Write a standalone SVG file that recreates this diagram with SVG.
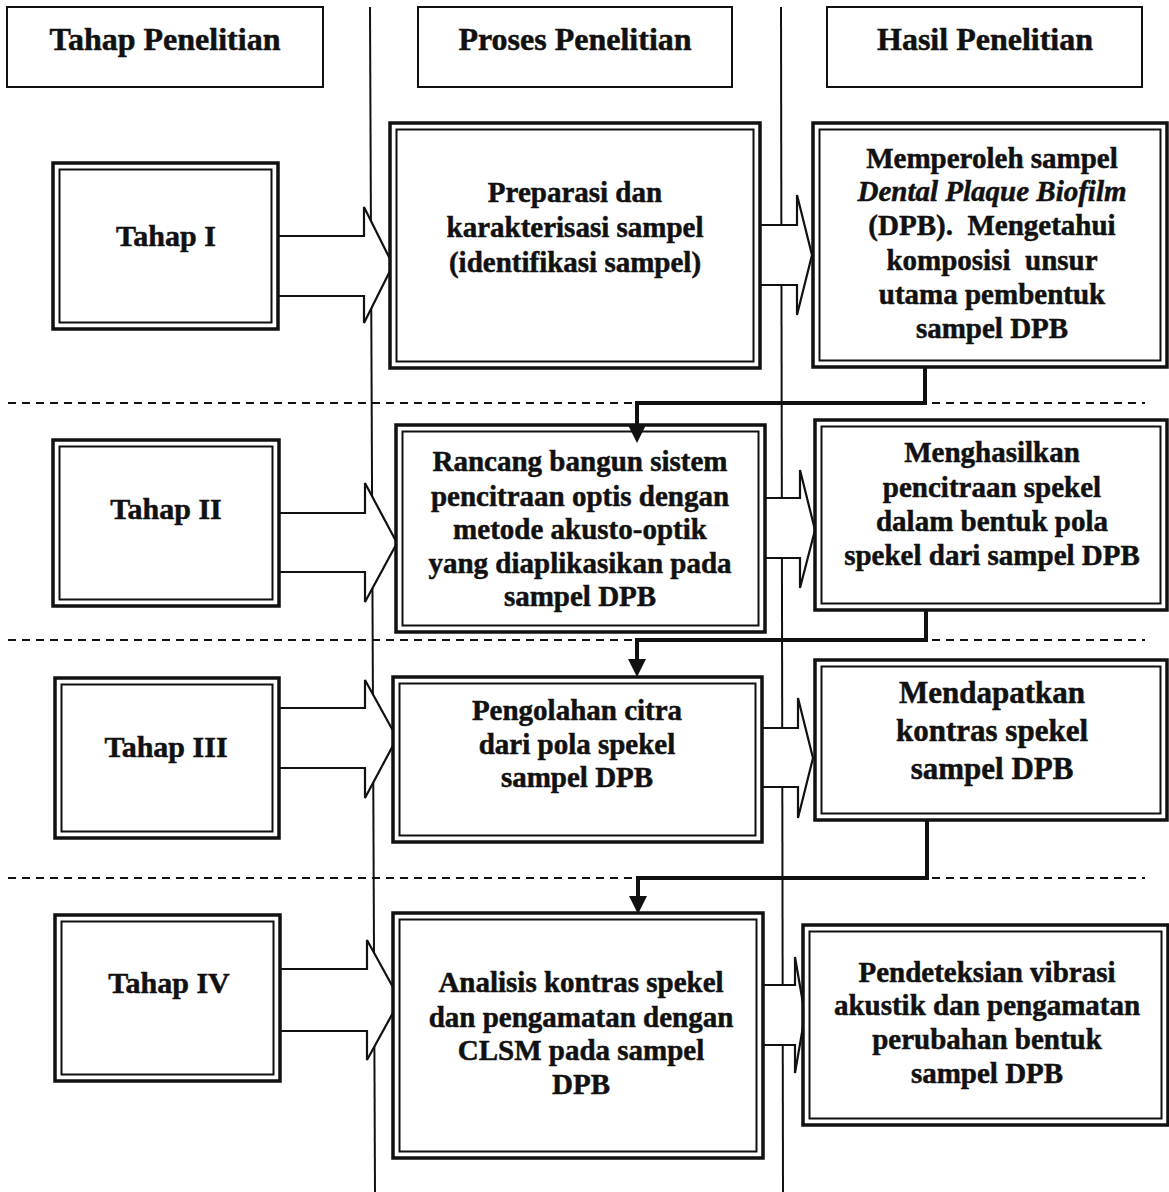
<svg xmlns="http://www.w3.org/2000/svg" width="1169" height="1192" viewBox="0 0 1169 1192">
  <style>
    .bg { fill: #ffffff; }
    .hdr { fill: #ffffff; stroke: #111; stroke-width: 2; }
    .dbl-o { fill: #ffffff; stroke: #111; stroke-width: 3.5; }
    .dbl-i { fill: none; stroke: #111; stroke-width: 2; }
    .lane { stroke: #111; stroke-width: 2; fill: none; }
    .sep { stroke: #111; stroke-width: 2; stroke-dasharray: 8 6; fill: none; }
    .blk { fill: #ffffff; stroke: #111; stroke-width: 2.2; stroke-linejoin: miter; }
    .flow { stroke: #111; stroke-width: 4; fill: none; }
    .head { fill: #111; }
    text { font-family: "Liberation Serif", "Times New Roman", serif; font-weight: bold; fill: #111; stroke: #111; stroke-width: 0.5; text-anchor: middle; }
    .h { font-size: 32px; }
    .t { font-size: 30px; }
    .n { font-size: 29px; }
    .big { font-size: 31px; }
    .it { font-style: italic; }
  </style>

  <rect class="bg" x="0" y="0" width="1169" height="1192"/>

  <!-- swimlane dividers and stage separators -->
  <g id="lanes">
    <line class="lane" x1="370" y1="7" x2="375" y2="1192"/>
    <line class="lane" x1="781" y1="7" x2="783" y2="1192"/>
    <line class="sep" x1="8" y1="403" x2="1145" y2="403"/>
    <line class="sep" x1="8" y1="640" x2="1145" y2="640"/>
    <line class="sep" x1="8" y1="878" x2="1145" y2="878"/>
  </g>

  <!-- column headers -->
  <g id="hdr-tahap">
    <rect class="hdr" x="7" y="7" width="316" height="80"/>
    <text class="h" x="165" y="50">Tahap Penelitian</text>
  </g>
  <g id="hdr-proses">
    <rect class="hdr" x="418" y="7" width="314" height="80"/>
    <text class="h" x="575" y="50">Proses Penelitian</text>
  </g>
  <g id="hdr-hasil">
    <rect class="hdr" x="827" y="7" width="315" height="80"/>
    <text class="h" x="985" y="50">Hasil Penelitian</text>
  </g>

  <!-- block arrows and result-to-next-stage connectors -->
  <g id="connectors">
    <path class="blk" d="M278,236 H364 V207 L393,265 L364,323 V296 H278"/>
    <path class="blk" d="M760,225 H797 V195 L812,255 L797,315 V285 H760"/>
    <path class="blk" d="M279,513 H365 V483 L397,543 L365,602 V572 H279"/>
    <path class="blk" d="M765,498 H800 V470 L815,530 L800,588 V558 H765"/>
    <path class="blk" d="M279,708 H365 V680 L397,738 L365,798 V768 H279"/>
    <path class="blk" d="M762,728 H798 V698 L813,758 L798,818 V787 H762"/>
    <path class="blk" d="M280,969 H367 V940 L400,1000 L367,1060 V1031 H280"/>
    <path class="blk" d="M763,985 H795 V957 L805,1015 L795,1073 V1045 H763"/>

    <path class="flow" d="M925,367 V403 H637 V428"/>
    <path class="flow" d="M926,610 V640 H637 V662"/>
    <path class="flow" d="M927,820 V878 H638 V900"/>
  </g>

  <!-- Tahap I -->
  <g id="tahap-1">
    <rect class="dbl-o" x="53" y="163" width="225" height="166"/>
    <rect class="dbl-i" x="59.5" y="169.5" width="212" height="153"/>
    <text class="t" x="166" y="246">Tahap I</text>
  </g>
  <g id="proses-1">
    <rect class="dbl-o" x="390" y="123" width="370" height="245"/>
    <rect class="dbl-i" x="396.5" y="129.5" width="357" height="232"/>
    <text class="n" x="575" y="202">Preparasi dan</text>
    <text class="n" x="575" y="237">karakterisasi sampel</text>
    <text class="n" x="575" y="272">(identifikasi sampel)</text>
  </g>
  <g id="hasil-1">
    <rect class="dbl-o" x="813" y="123" width="354" height="244"/>
    <rect class="dbl-i" x="819.5" y="129.5" width="341" height="231"/>
    <text class="n" x="992" y="168">Memperoleh sampel</text>
    <text class="n it" x="992" y="201">Dental Plaque Biofilm</text>
    <text class="n" x="992" y="235" xml:space="preserve">(DPB).  Mengetahui</text>
    <text class="n" x="992" y="270" xml:space="preserve">komposisi  unsur</text>
    <text class="n" x="992" y="304">utama pembentuk</text>
    <text class="n" x="992" y="338">sampel DPB</text>
  </g>

  <!-- Tahap II -->
  <g id="tahap-2">
    <rect class="dbl-o" x="53" y="440" width="226" height="166"/>
    <rect class="dbl-i" x="59.5" y="446.5" width="213" height="153"/>
    <text class="t" x="166" y="519">Tahap II</text>
  </g>
  <g id="proses-2">
    <rect class="dbl-o" x="396" y="425" width="369" height="207"/>
    <rect class="dbl-i" x="402.5" y="431.5" width="356" height="194"/>
    <text class="n" x="580" y="471">Rancang bangun sistem</text>
    <text class="n" x="580" y="506">pencitraan optis dengan</text>
    <text class="n" x="580" y="539">metode akusto-optik</text>
    <text class="n" x="580" y="573">yang diaplikasikan pada</text>
    <text class="n" x="580" y="606">sampel DPB</text>
  </g>
  <g id="hasil-2">
    <rect class="dbl-o" x="815" y="420" width="352" height="190"/>
    <rect class="dbl-i" x="821.5" y="426.5" width="339" height="177"/>
    <text class="n" x="992" y="462">Menghasilkan</text>
    <text class="n" x="992" y="497">pencitraan spekel</text>
    <text class="n" x="992" y="531">dalam bentuk pola</text>
    <text class="n" x="992" y="565">spekel dari sampel DPB</text>
  </g>

  <!-- Tahap III -->
  <g id="tahap-3">
    <rect class="dbl-o" x="55" y="678" width="224" height="160"/>
    <rect class="dbl-i" x="61.5" y="684.5" width="211" height="147"/>
    <text class="t" x="166" y="757">Tahap III</text>
  </g>
  <g id="proses-3">
    <rect class="dbl-o" x="393" y="677" width="369" height="165"/>
    <rect class="dbl-i" x="399.5" y="683.5" width="356" height="152"/>
    <text class="n" x="577" y="720">Pengolahan citra</text>
    <text class="n" x="577" y="754">dari pola spekel</text>
    <text class="n" x="577" y="787">sampel DPB</text>
  </g>
  <g id="hasil-3">
    <rect class="dbl-o" x="815" y="660" width="352" height="160"/>
    <rect class="dbl-i" x="821.5" y="666.5" width="339" height="147"/>
    <text class="big" x="992" y="703">Mendapatkan</text>
    <text class="big" x="992" y="741">kontras spekel</text>
    <text class="big" x="992" y="779">sampel DPB</text>
  </g>

  <!-- Tahap IV -->
  <g id="tahap-4">
    <rect class="dbl-o" x="55" y="915" width="225" height="166"/>
    <rect class="dbl-i" x="61.5" y="921.5" width="212" height="153"/>
    <text class="t" x="169" y="993">Tahap IV</text>
  </g>
  <g id="proses-4">
    <rect class="dbl-o" x="393" y="913" width="370" height="245"/>
    <rect class="dbl-i" x="399.5" y="919.5" width="357" height="232"/>
    <text class="n" x="581" y="992">Analisis kontras spekel</text>
    <text class="n" x="581" y="1027">dan pengamatan dengan</text>
    <text class="n" x="581" y="1060">CLSM pada sampel</text>
    <text class="n" x="581" y="1094">DPB</text>
  </g>
  <g id="hasil-4">
    <rect class="dbl-o" x="803" y="925" width="365" height="200"/>
    <rect class="dbl-i" x="809.5" y="931.5" width="352" height="187"/>
    <text class="n" x="987" y="982">Pendeteksian vibrasi</text>
    <text class="n" x="987" y="1015">akustik dan pengamatan</text>
    <text class="n" x="987" y="1049">perubahan bentuk</text>
    <text class="n" x="987" y="1083">sampel DPB</text>
  </g>

  <!-- arrowheads on the stage-to-stage connectors, drawn over box borders -->
  <g id="arrowheads">
    <polygon class="head" points="628,425 646,425 637,443"/>
    <polygon class="head" points="628,659 646,659 637,677"/>
    <polygon class="head" points="629,896 647,896 638,914"/>
  </g>
</svg>
